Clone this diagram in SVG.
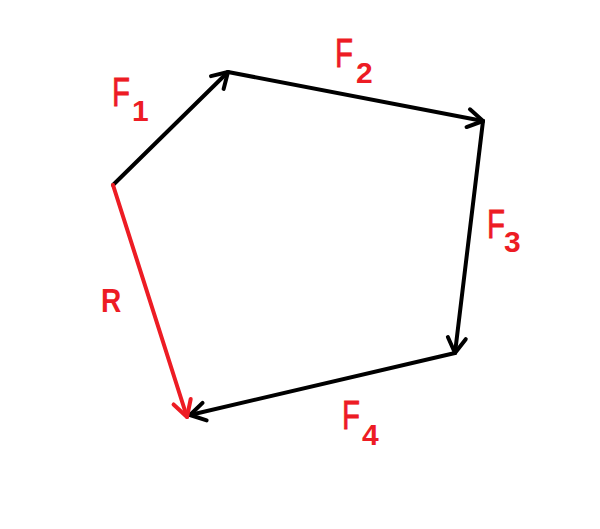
<svg xmlns="http://www.w3.org/2000/svg" width="600" height="529" viewBox="0 0 600 529">
<style>
.v{fill:none;stroke-width:4;stroke-linecap:round;stroke-linejoin:round}
.k{stroke:#000}
.r{stroke:#ED1C24}
.lbl{font-family:"Liberation Sans",Arial,sans-serif;fill:#ED1C24}
.big{font-size:41px;stroke:#ED1C24;stroke-width:0.8}
.sub{font-size:30px;font-weight:bold}
</style>
<defs>
<marker id="ak" markerUnits="userSpaceOnUse" markerWidth="40" markerHeight="40" refX="0" refY="0" viewBox="-20 -20 40 40" orient="auto" overflow="visible">
<path d="M-15,-9 L0,0 L-15,9" fill="none" stroke="#000" stroke-width="4" stroke-linecap="round" stroke-linejoin="round"/>
</marker>
<marker id="ar" markerUnits="userSpaceOnUse" markerWidth="40" markerHeight="40" refX="0" refY="0" viewBox="-20 -20 40 40" orient="auto" overflow="visible">
<path d="M-16,-9 L0,0 L-16,9" fill="none" stroke="#ED1C24" stroke-width="4" stroke-linecap="round" stroke-linejoin="round"/>
</marker>
</defs>
<g id="connectors">
<line class="v k" x1="113" y1="185" x2="228" y2="72" marker-end="url(#ak)"/>
<line class="v k" x1="228" y1="72" x2="483" y2="121" marker-end="url(#ak)"/>
<line class="v k" x1="483" y1="121" x2="455" y2="353" marker-end="url(#ak)"/>
<line class="v k" x1="455" y1="353" x2="190" y2="415" marker-end="url(#ak)"/>
<line class="v r" x1="113" y1="185" x2="187" y2="417" marker-end="url(#ar)"/>
</g>
<g id="label-F1" class="lbl">
<text class="big" transform="translate(112,106) scale(0.72,1)">F</text>
<text class="sub" x="132" y="121">1</text>
</g>
<g id="label-F2" class="lbl">
<text class="big" transform="translate(335,67) scale(0.72,1)">F</text>
<text class="sub" x="356" y="83">2</text>
</g>
<g id="label-F3" class="lbl">
<text class="big" transform="translate(487,238) scale(0.72,1)">F</text>
<text class="sub" x="504" y="252">3</text>
</g>
<g id="label-F4" class="lbl">
<text class="big" transform="translate(342,429) scale(0.72,1)">F</text>
<text class="sub" x="362" y="445">4</text>
</g>
<g id="label-R" class="lbl">
<text class="sub" transform="translate(101,312) scale(0.85,1)" style="font-size:33px">R</text>
</g>
</svg>
